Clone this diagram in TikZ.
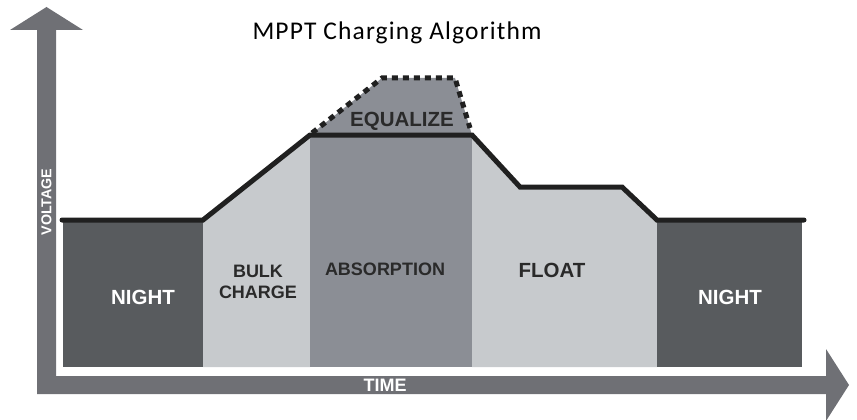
\documentclass[tikz,border=0pt]{standalone}
\usepackage{fontspec}
\setmainfont{Liberation Sans}
\newfontfamily\titlefont[LetterSpace=4.5]{Carlito}
\definecolor{nightc}{HTML}{585B5E}
\definecolor{lightc}{HTML}{C7CACD}
\definecolor{absc}{HTML}{8B8E95}
\definecolor{axisc}{HTML}{6F7075}
\definecolor{linec}{HTML}{202020}
\definecolor{labelc}{HTML}{2A2A2A}
\begin{document}
\begin{tikzpicture}[x=1pt,y=-1pt,
  curve/.style={draw=linec,line width=5pt,line cap=round,line join=miter},
  dashline/.style={draw=linec,line width=5pt,dash pattern=on 6pt off 5pt},
  darklabel/.style={text=labelc,font=\bfseries\fontsize{18}{21}\selectfont,anchor=base,inner sep=0pt},
  whitelabel/.style={text=white,font=\bfseries\fontsize{20.5}{24}\selectfont,anchor=base,inner sep=0pt}]
\useasboundingbox (0,0) rectangle (857,420);
% axes
\fill[axisc] (37,394) -- (37,30) -- (10,30) -- (46.5,7) -- (83,30) -- (56,30) -- (56,376)
  -- (826,376) -- (826,349) -- (849,385) -- (826,421) -- (826,394) -- cycle;
% regions
\fill[nightc] (63,220) rectangle (203,367);
\fill[lightc] (203,220) -- (310,135) -- (310,367) -- (203,367) -- cycle;
\fill[absc] (310,135) rectangle (472,367);
\fill[absc] (310,135) -- (382,78) -- (455,78) -- (472,135) -- cycle;
\fill[lightc] (472,135) -- (520,187) -- (622,187) -- (657,220) -- (657,367) -- (472,367) -- cycle;
\fill[nightc] (657,220) rectangle (802,367);
% voltage curve
\draw[curve] (62,220) -- (203,220) -- (310,135) -- (472,135) -- (520,187) -- (622,187) -- (657,220) -- (804,220);
\draw[dashline] (312,133) -- (382,78) -- (455,78) -- (470,128);
% labels
\node[font=\titlefont\fontsize{25.5}{30}\selectfont, anchor=base, inner sep=0pt] (title) at (397,40) {MPPT Charging Algorithm};
\node[whitelabel] (night1) at (143,304) {NIGHT};
\node[whitelabel] (night2) at (730,304) {NIGHT};
\node[darklabel] (bulk1) at (258,277) {BULK};
\node[darklabel] (bulk2) at (258,298) {CHARGE};
\node[darklabel] (absorption) at (385,275) {ABSORPTION};
\node[darklabel, font=\bfseries\fontsize{20.5}{24}\selectfont] (float) at (552,277) {FLOAT};
\node[darklabel, font=\bfseries\fontsize{20.5}{24}\selectfont] (equalize) at (402,126) {EQUALIZE};
\node[text=white, font=\bfseries\fontsize{14.3}{17}\selectfont, inner sep=0pt, rotate=90] (voltage) at (46.5,202) {VOLTAGE};
\node[text=white, font=\bfseries\fontsize{18}{21}\selectfont, anchor=base, inner sep=0pt] (time) at (385,391) {TIME};
\end{tikzpicture}
\end{document}
